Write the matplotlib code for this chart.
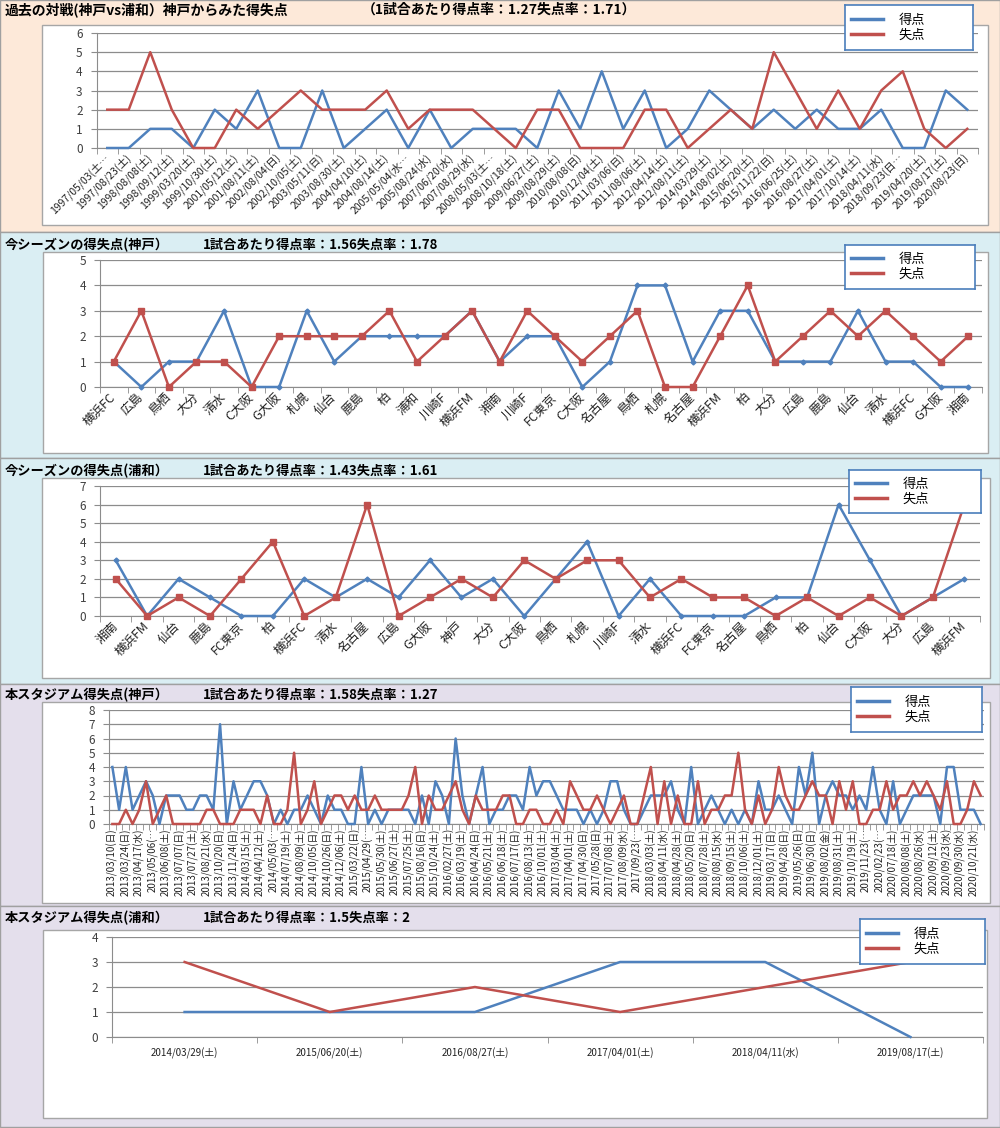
import numpy as np
import matplotlib.pyplot as plt
from matplotlib.patches import Rectangle
from matplotlib.lines import Line2D

plt.rcParams['font.family'] = ['Noto Sans CJK JP', 'DejaVu Sans']

W, H = 1000, 1128
BLUE = '#4F81BD'
RED = '#C0504D'
GRID = '#8C8C8C'

# ---- 過去の対戦 ----
p1_dates = ['1997/05/03(土…', '1997/08/23(土)', '1998/08/08(土)', '1998/09/12(土)', '1999/03/20(土)',
            '1999/10/30(土)', '2001/05/12(土)', '2001/08/11(土)', '2002/08/04(日)', '2002/10/05(土)',
            '2003/05/11(日)', '2003/08/30(土)', '2004/04/10(土)', '2004/08/14(土)', '2005/05/04(水…',
            '2005/08/24(水)', '2007/06/20(水)', '2007/08/29(水)', '2008/05/03(土…', '2008/10/18(土)',
            '2009/06/27(土)', '2009/08/29(土)', '2010/08/08(日)', '2010/12/04(土)', '2011/03/06(日)',
            '2011/08/06(土)', '2012/04/14(土)', '2012/08/11(土)', '2014/03/29(土)', '2014/08/02(土)',
            '2015/06/20(土)', '2015/11/22(日)', '2016/06/25(土)', '2016/08/27(土)', '2017/04/01(土)',
            '2017/10/14(土)', '2018/04/11(水)', '2018/09/23(日…', '2019/04/20(土)', '2019/08/17(土)',
            '2020/08/23(日)']
p1_scored = [0, 0, 1, 1, 0, 2, 1, 3, 0, 0, 3, 0, 1, 2, 0, 2, 0, 1, 1, 1,
             0, 3, 1, 4, 1, 3, 0, 1, 3, 2, 1, 2, 1, 2, 1, 1, 2, 0, 0, 3, 2]
p1_lost = [2, 2, 5, 2, 0, 0, 2, 1, 2, 3, 2, 2, 2, 3, 1, 2, 2, 2, 1, 0,
           2, 2, 0, 0, 0, 2, 2, 0, 1, 2, 1, 5, 3, 1, 3, 1, 3, 4, 1, 0, 1]

# ---- 今シーズン(神戸) ----
p2_teams = ['横浜FC', '広島', '鳥栖', '大分', '清水', 'C大阪', 'G大阪', '札幌', '仙台', '鹿島',
            '柏', '浦和', '川崎F', '横浜FM', '湘南', '川崎F', 'FC東京', 'C大阪', '名古屋', '鳥栖',
            '札幌', '名古屋', '横浜FM', '柏', '大分', '広島', '鹿島', '仙台', '清水', '横浜FC',
            'G大阪', '湘南']
p2_scored = [1, 0, 1, 1, 3, 0, 0, 3, 1, 2, 2, 2, 2, 3, 1, 2, 2, 0, 1, 4,
             4, 1, 3, 3, 1, 1, 1, 3, 1, 1, 0, 0]
p2_lost = [1, 3, 0, 1, 1, 0, 2, 2, 2, 2, 3, 1, 2, 3, 1, 3, 2, 1, 2, 3,
           0, 0, 2, 4, 1, 2, 3, 2, 3, 2, 1, 2]

# ---- 今シーズン(浦和) ----
p3_teams = ['湘南', '横浜FM', '仙台', '鹿島', 'FC東京', '柏', '横浜FC', '清水', '名古屋', '広島',
            'G大阪', '神戸', '大分', 'C大阪', '鳥栖', '札幌', '川崎F', '清水', '横浜FC', 'FC東京',
            '名古屋', '鳥栖', '柏', '仙台', 'C大阪', '大分', '広島', '横浜FM']
p3_scored = [3, 0, 2, 1, 0, 0, 2, 1, 2, 1, 3, 1, 2, 0, 2, 4, 0, 2, 0, 0,
             0, 1, 1, 6, 3, 0, 1, 2]
p3_lost = [2, 0, 1, 0, 2, 4, 0, 1, 6, 0, 1, 2, 1, 3, 2, 3, 3, 1, 2, 1,
           1, 0, 1, 0, 1, 0, 1, 6]

# ---- 本スタジアム(神戸) ----  (labels shown on every other match)
p4_dates = ['2013/03/10(日)', '2013/03/24(日)', '2013/04/17(水)', '2013/05/06(…', '2013/06/08(土)',
            '2013/07/07(日)', '2013/07/27(土)', '2013/08/21(水)', '2013/10/20(日)', '2013/11/24(日)',
            '2014/03/15(土)', '2014/04/12(土)', '2014/05/03(…', '2014/07/19(土)', '2014/08/09(土)',
            '2014/10/05(日)', '2014/10/26(日)', '2014/12/06(土)', '2015/03/22(日)', '2015/04/29(…',
            '2015/05/30(土)', '2015/06/27(土)', '2015/07/25(土)', '2015/08/16(日)', '2015/10/24(土)',
            '2016/02/27(土)', '2016/03/19(土)', '2016/04/24(日)', '2016/05/21(土)', '2016/06/18(土)',
            '2016/07/17(日)', '2016/08/13(土)', '2016/10/01(土)', '2017/03/04(土)', '2017/04/01(土)',
            '2017/04/30(日)', '2017/05/28(日)', '2017/07/08(土)', '2017/08/09(水)', '2017/09/23(…',
            '2018/03/03(土)', '2018/04/11(水)', '2018/04/28(土)', '2018/05/20(日)', '2018/07/28(土)',
            '2018/08/15(水)', '2018/09/15(土)', '2018/10/06(土)', '2018/12/01(土)', '2019/03/17(日)',
            '2019/04/28(日)', '2019/05/26(日)', '2019/06/30(日)', '2019/08/02(金)', '2019/08/31(土)',
            '2019/10/19(土)', '2019/11/23(…', '2020/02/23(…', '2020/07/18(土)', '2020/08/08(土)',
            '2020/08/26(水)', '2020/09/12(土)', '2020/09/23(水)', '2020/09/30(水)', '2020/10/21(水)']
p4_scored = [4, 1, 4, 1, 2, 3, 2, 0, 2, 2, 2, 1, 1, 2, 2, 1, 7, 0, 3, 1,
             2, 3, 3, 2, 0, 1, 0, 1, 1, 2, 1, 0, 2, 1, 1, 0, 0, 4, 0, 1,
             0, 1, 1, 1, 1, 0, 2, 0, 3, 2, 0, 6, 2, 0, 2, 4, 0, 1, 1, 2,
             2, 1, 4, 2, 3, 3, 2, 1, 1, 1, 0, 1, 0, 1, 3, 3, 1, 0, 0, 1,
             2, 2, 2, 3, 1, 0, 4, 0, 1, 2, 1, 0, 1, 0, 1, 0, 3, 1, 1, 2,
             1, 0, 4, 2, 5, 0, 2, 3, 2, 2, 1, 2, 1, 4, 1, 0, 3, 0, 1, 2,
             2, 2, 2, 0, 4, 4, 1, 1, 1, 0]
p4_lost = [0, 0, 1, 0, 1, 3, 0, 1, 2, 0, 0, 0, 0, 0, 1, 1, 0, 0, 0, 1,
           1, 1, 0, 2, 0, 0, 1, 5, 0, 1, 3, 0, 1, 2, 2, 1, 2, 1, 1, 2,
           1, 1, 1, 1, 2, 4, 0, 2, 1, 1, 2, 3, 1, 0, 2, 1, 1, 1, 2, 2,
           0, 0, 1, 1, 0, 0, 1, 0, 3, 2, 1, 1, 2, 1, 0, 1, 2, 0, 0, 2,
           4, 0, 3, 0, 2, 0, 0, 3, 0, 1, 1, 2, 2, 5, 1, 0, 2, 0, 1, 4,
           2, 1, 1, 2, 3, 2, 2, 0, 3, 1, 3, 0, 0, 1, 1, 3, 1, 2, 2, 3,
           2, 3, 2, 1, 3, 0, 0, 1, 3, 2]

# ---- 本スタジアム(浦和) ----
p5_dates = ['2014/03/29(土)', '2015/06/20(土)', '2016/08/27(土)', '2017/04/01(土)', '2018/04/11(水)', '2019/08/17(土)']
p5_scored = [1, 1, 1, 3, 3, 0]
p5_lost = [3, 1, 2, 1, 2, 3]

fig = plt.figure(figsize=(W / 100, H / 100), dpi=100)


def frac(x0, y0, x1, y1):
    return [x0 / W, 1 - y1 / H, (x1 - x0) / W, (y1 - y0) / H]


def box(x0, y0, x1, y1, fc, ec, z=-2, lw=1.0):
    l, b, w, h = frac(x0, y0, x1, y1)
    fig.add_artist(Rectangle((l, b), w, h, transform=fig.transFigure,
                             facecolor=fc, edgecolor=ec, lw=lw, zorder=z))


def title(y, left, right, xr, fs=10):
    fig.text(5 / W, 1 - y / H, left, fontsize=fs, weight='bold', va='center', ha='left')
    fig.text(xr / W, 1 - y / H, right, fontsize=fs, weight='bold', va='center', ha='left')


def panel(chart, plot, leg, ymax, labels, scored, lost, lab_x=None, rot=45,
          markers=False, fs=7):
    box(*chart, fc='white', ec='#A6A6A6', z=-1)
    ax = fig.add_axes(frac(*plot))
    ax.patch.set_alpha(0)
    n = len(scored)
    x = np.arange(n)
    if markers:
        ax.plot(x, scored, color=BLUE, lw=1.8, marker='D', ms=2.5, clip_on=False, zorder=3)
        ax.plot(x, lost, color=RED, lw=1.8, marker='s', ms=5, clip_on=False, zorder=4)
    else:
        ax.plot(x, scored, color=BLUE, lw=1.8, clip_on=False, zorder=3)
        ax.plot(x, lost, color=RED, lw=1.8, clip_on=False, zorder=4)
    ax.set_xlim(-0.5, n - 0.5)
    ax.set_ylim(0, ymax)
    ax.set_yticks(range(ymax + 1))
    ax.yaxis.grid(True, color=GRID, lw=0.9)
    ax.set_axisbelow(True)
    for s in ['top', 'right']:
        ax.spines[s].set_visible(False)
    for s in ['left', 'bottom']:
        ax.spines[s].set_color(GRID)
    if lab_x is None:
        lab_x = x
    ax.set_xticks(lab_x)
    if rot == 45:
        ax.set_xticklabels(labels, rotation=45, ha='right', va='center', rotation_mode='anchor')
        ax.tick_params(axis='x', which='major', pad=6)
    elif rot == 90:
        ax.set_xticklabels(labels, rotation=90, ha='center', va='top')
        ax.tick_params(axis='x', which='major', pad=3)
    else:
        ax.set_xticklabels(labels)
        ax.tick_params(axis='x', which='major', pad=8)
    ax.set_xticks(np.arange(-0.5, n), minor=True)
    ax.tick_params(axis='x', which='major', length=0, labelsize=fs, labelcolor='#222222')
    ax.tick_params(axis='x', which='minor', length=4, color=GRID)
    ax.tick_params(axis='y', length=4, color=GRID, labelsize=8.5, labelcolor='#404040', pad=6)

    lax = fig.add_axes(frac(*leg), zorder=5)
    lax.set_xticks([])
    lax.set_yticks([])
    for s in lax.spines.values():
        s.set_color('#4A7EBB')
        s.set_linewidth(1.2)
    hs = [Line2D([], [], color=BLUE, lw=2.5), Line2D([], [], color=RED, lw=2.5)]
    lax.legend(hs, ['得点', '失点'], loc='center left', frameon=False, fontsize=9.5,
               handlelength=2.4, handletextpad=1.2, labelspacing=0.15,
               borderpad=0.2, borderaxespad=0.25)
    return ax


# section backgrounds
box(0, 0, 1000, 232, '#FDE9D9', '#A0A0A0', z=-3)
box(0, 232, 1000, 458, '#DAEEF3', '#A0A0A0', z=-3)
box(0, 458, 1000, 684, '#DAEEF3', '#A0A0A0', z=-3)
box(0, 684, 1000, 906, '#E4DFEC', '#A0A0A0', z=-3)
box(0, 906, 1000, 1127, '#E4DFEC', '#A0A0A0', z=-3)

title(10, '過去の対戦(神戸vs浦和）神戸からみた得失点', '（1試合あたり得点率：1.27失点率：1.71）', 362, fs=10)
title(245, '今シーズンの得失点(神戸）', '1試合あたり得点率：1.56失点率：1.78', 203, fs=9.5)
title(471, '今シーズンの得失点(浦和）', '1試合あたり得点率：1.43失点率：1.61', 203, fs=9.5)
title(695, '本スタジアム得失点(神戸）', '1試合あたり得点率：1.58失点率：1.27', 203, fs=9.5)
title(918, '本スタジアム得失点(浦和）', '1試合あたり得点率：1.5失点率：2', 203, fs=9.5)

panel((42, 25, 988, 225), (96.5, 33, 978, 148), (845, 5, 973, 50), 6,
      p1_dates, p1_scored, p1_lost, fs=7.5)
panel((43, 252, 988, 453), (100, 260, 982, 387), (845, 245, 975, 289), 5,
      p2_teams, p2_scored, p2_lost, markers=True, fs=9)
panel((42, 478, 990, 678), (100, 486, 980, 616), (849, 470, 981, 513), 7,
      p3_teams, p3_scored, p3_lost, markers=True, fs=9)
panel((42, 702, 990, 903), (109, 710, 984, 824), (851, 687, 982, 732), 8,
      p4_dates, p4_scored, p4_lost, lab_x=np.arange(0, len(p4_scored), 2), rot=90, fs=7)
panel((43, 930, 987, 1118), (112, 937, 983, 1037), (860, 919, 985, 964), 4,
      p5_dates, p5_scored, p5_lost, rot=0, fs=7)

fig.savefig('out.png', dpi=100)
